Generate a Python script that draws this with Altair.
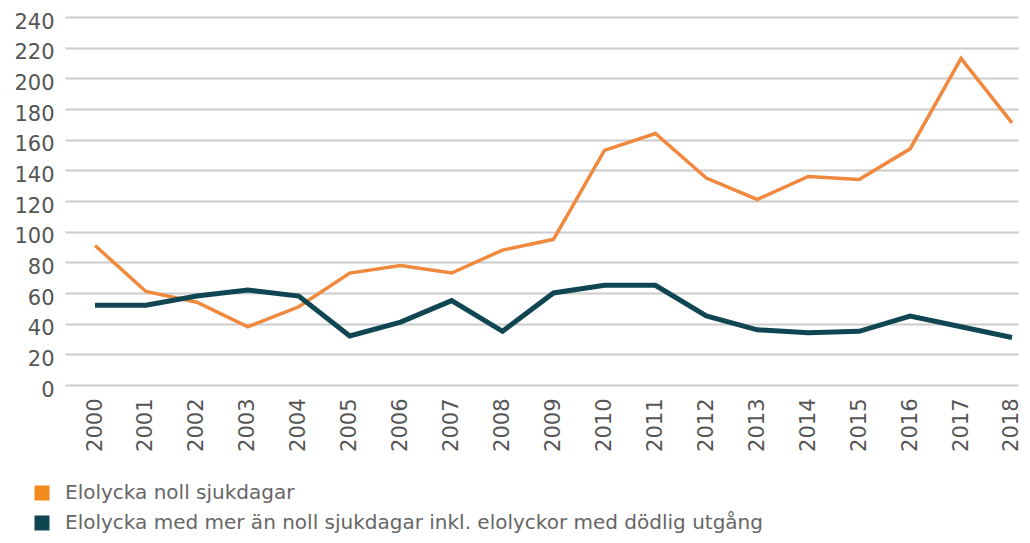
import altair as alt
import pandas as pd

years = list(range(2000, 2019))
noll = [91, 61, 54, 38, 51, 73, 78, 73, 88, 95, 153, 164, 135, 121, 136, 134, 154, 213, 171]
mer = [52, 52, 58, 62, 58, 32, 41, 55, 35, 60, 65, 65, 45, 36, 34, 35, 45, 38, 31]
series = ["Elolycka noll sjukdagar",
          "Elolycka med mer än noll sjukdagar inkl. elolyckor med dödlig utgång"]
colors = ["#F0883E", "#0F4651"]
legend_colors = ["#F28A1E", "#0F4651"]
y_ticks = list(range(0, 241, 20))

rows = []
for s, vals in zip(series, [noll, mer]):
    for yr, v in zip(years, vals):
        rows.append({"year": yr, "value": v, "series": s, "legend": s})
df = pd.DataFrame(rows)

x_enc = alt.X("year:Q",
              scale=alt.Scale(domain=[1999.411, 2018.118], nice=False, zero=False),
              axis=alt.Axis(values=years, format="d", labelAngle=270, grid=False,
                            domain=False, ticks=False, labelPadding=13,
                            labelFontSize=21, labelColor="#555555", labelOverlap=False,
                            labelFont="DejaVu Sans", title=None))
y_enc = alt.Y("value:Q",
              scale=alt.Scale(domain=[0, 240], nice=False),
              axis=alt.Axis(values=y_ticks, grid=True, gridColor="#cccccc", gridWidth=2,
                            domain=False, ticks=False, labelPadding=11, labelOffset=5,
                            labelFontSize=21, labelColor="#555555", labelOverlap=False,
                            labelFont="DejaVu Sans", title=None))

lines = alt.Chart(df).mark_line(strokeCap="butt", strokeJoin="miter").encode(
    x=x_enc,
    y=y_enc,
    stroke=alt.Stroke("series:N", sort=series,
                      scale=alt.Scale(domain=series, range=colors), legend=None),
    strokeWidth=alt.StrokeWidth("series:N", sort=series,
                                scale=alt.Scale(domain=series, range=[3.5, 5]),
                                legend=None),
    detail="series:N",
)

legend_layer = alt.Chart(df).mark_square(filled=True, opacity=0, size=1).encode(
    x=x_enc,
    y=y_enc,
    fill=alt.Fill("legend:N", sort=series,
                  scale=alt.Scale(domain=series, range=legend_colors),
                  legend=alt.Legend(title=None, orient="none", legendX=-33, legendY=466,
                                    direction="vertical", symbolType="square",
                                    symbolSize=225, symbolStrokeWidth=0,
                                    labelFontSize=20, labelFont="DejaVu Sans",
                                    labelColor="#666666", labelLimit=2000,
                                    labelOffset=13, rowPadding=10, symbolOpacity=1)),
)

chart = alt.layer(lines, legend_layer).resolve_scale(
    fill="independent", stroke="independent"
).properties(
    width=953, height=368,
    autosize=alt.AutoSizeParams(type="none"),
    padding={"left": 57, "top": 9, "right": 4, "bottom": 150},
).configure_view(stroke=None)

chart.save("out.html", embed_options={"renderer": "svg", "actions": False})
